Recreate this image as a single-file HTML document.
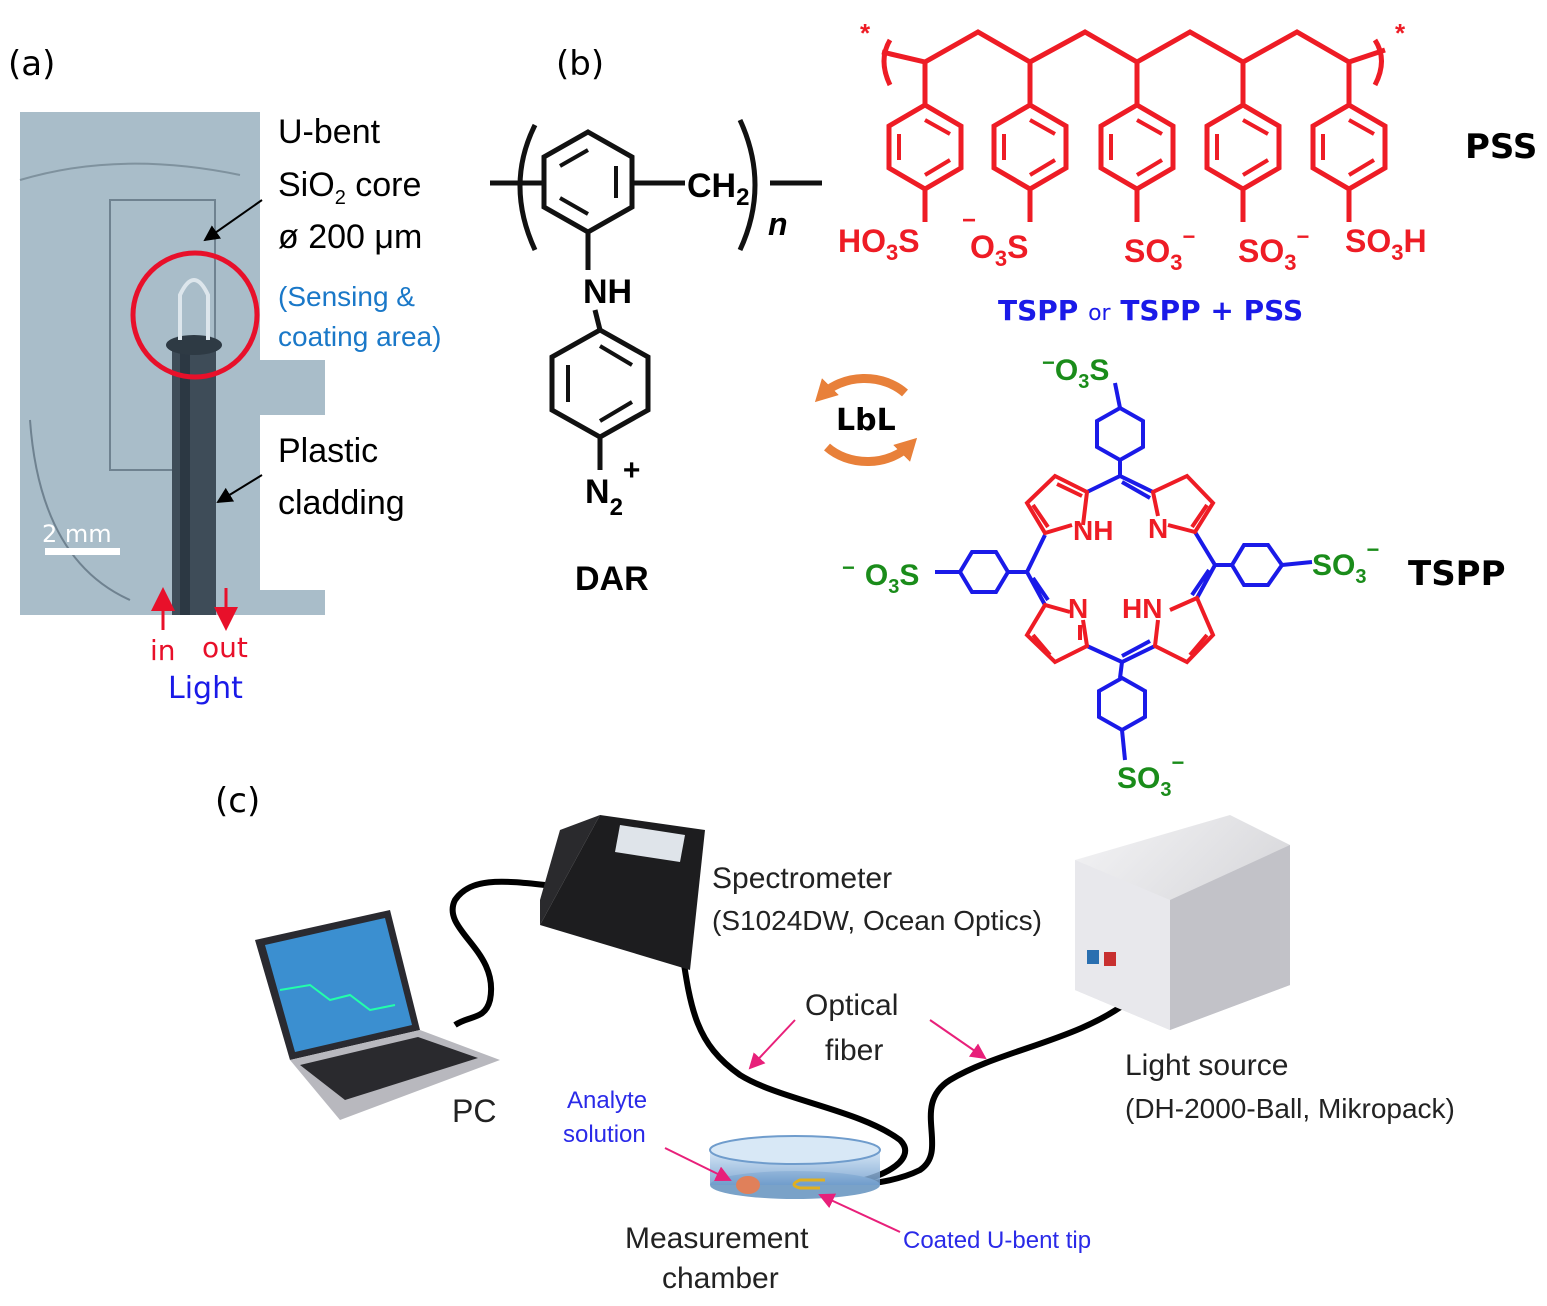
<!DOCTYPE html>
<html><head><meta charset="utf-8"><style>
body{margin:0;background:#fff}
svg{display:block}
text{font-family:"Liberation Sans",sans-serif}
.c{font-family:"DejaVu Sans","Liberation Sans",sans-serif}
</style></head><body>
<svg width="1547" height="1306" viewBox="0 0 1547 1306" xmlns="http://www.w3.org/2000/svg">
<defs>
<marker id="ab" markerWidth="8" markerHeight="8" refX="7" refY="4" orient="auto"><path d="M0,0L8,4L0,8z" fill="#000"/></marker>
<marker id="ar" markerWidth="8" markerHeight="8" refX="7" refY="4" orient="auto"><path d="M0,0L8,4L0,8z" fill="#e8102a"/></marker>
<marker id="am" markerWidth="8" markerHeight="8" refX="7" refY="4" orient="auto"><path d="M0,0L8,4L0,8z" fill="#e8207a"/></marker>
<marker id="ao" markerUnits="userSpaceOnUse" markerWidth="22" markerHeight="24" refX="12" refY="12" orient="auto"><path d="M0,0L22,12L0,24z" fill="#e8803a"/></marker>
<linearGradient id="ls" x1="0" y1="0" x2="1" y2="1"><stop offset="0" stop-color="#f4f4f6"/><stop offset="1" stop-color="#c8c8cc"/></linearGradient>
<linearGradient id="dish" x1="0" y1="0" x2="0" y2="1"><stop offset="0" stop-color="#cfe3f5"/><stop offset="1" stop-color="#6f9ccc"/></linearGradient>
</defs>

<!-- (a) -->
<text x="8" y="75" font-size="34" class="c">(a)</text>
<path d="M20,112H260V360H325V415H260V590H325V615H20Z" fill="#a9bdc9"/>
<path d="M20,180 Q120,150 240,175" stroke="#7f929e" stroke-width="2" fill="none"/>
<path d="M30,420 Q40,560 130,600" stroke="#6f8290" stroke-width="2" fill="none"/>
<path d="M110,200H215V470H110Z" stroke="#6f8290" stroke-width="2" fill="none"/>
<rect x="172" y="340" width="44" height="275" fill="#3e4c58"/>
<rect x="180" y="340" width="10" height="275" fill="#2c3843"/>
<ellipse cx="194" cy="345" rx="28" ry="10" fill="#2e3a44"/>
<path d="M180,340V295Q194,265 208,295V340" stroke="#dde6ec" stroke-width="4" fill="none"/>
<circle cx="195" cy="315" r="62" stroke="#e8102a" stroke-width="5" fill="none"/>
<rect x="45" y="548" width="75" height="7" fill="#fff"/>
<text x="42" y="542" font-size="24" fill="#fff" class="c">2 mm</text>
<line x1="262" y1="200" x2="205" y2="240" stroke="#000" stroke-width="2" marker-end="url(#ab)"/>
<line x1="262" y1="475" x2="218" y2="502" stroke="#000" stroke-width="2" marker-end="url(#ab)"/>
<g font-size="34" class="c">
<text x="278" y="143">U-bent</text>
<text x="278" y="196">SiO<tspan font-size="20" dy="8">2</tspan><tspan dy="-8"> core</tspan></text>
<text x="278" y="248">ø 200 μm</text>
<text x="278" y="462">Plastic</text>
<text x="278" y="514">cladding</text>
</g>
<g font-size="28" fill="#1a78c8" class="c"><text x="278" y="306">(Sensing &amp;</text><text x="278" y="346">coating area)</text></g>
<line x1="163" y1="630" x2="163" y2="590" stroke="#e8102a" stroke-width="3" marker-end="url(#ar)"/>
<line x1="226" y1="588" x2="226" y2="628" stroke="#e8102a" stroke-width="3" marker-end="url(#ar)"/>
<text x="150" y="660" font-size="28" fill="#e8102a" class="c">in</text>
<text x="202" y="657" font-size="28" fill="#e8102a" class="c">out</text>
<text x="168" y="698" font-size="30" fill="#1a1ae8" class="c">Light</text>

<!-- (b) -->
<text x="556" y="75" font-size="34" class="c">(b)</text>
<g stroke="#111" stroke-width="5" fill="none">
<polygon points="588,132 632,157 632,207 588,232 544,207 544,157"/>
<path d="M560,166L588,150M616,166V198M560,198L588,214" stroke-width="4"/>
<line x1="490" y1="183" x2="544" y2="183"/>
<line x1="632" y1="183" x2="685" y2="183"/>
<line x1="770" y1="183" x2="822" y2="183"/>
<path d="M535,125Q505,185 535,250"/>
<path d="M740,120Q770,185 740,250"/>
<line x1="588" y1="232" x2="588" y2="270"/>
<line x1="595" y1="310" x2="600" y2="330"/>
<polygon points="600,330 648,357 648,410 600,437 552,410 552,357"/>
<path d="M568,365V402M600,346L632,365M600,421L632,402" stroke-width="4"/>
<line x1="600" y1="437" x2="600" y2="470"/>
</g>
<g font-size="34" font-weight="bold" class="c">
<text x="687" y="197">CH<tspan font-size="24" dy="8">2</tspan></text>
<text x="768" y="235" font-style="italic" font-size="32">n</text>
<text x="583" y="303">NH</text>
<text x="585" y="503">N<tspan font-size="24" dy="12">2</tspan><tspan font-size="30" dy="-35">+</tspan></text>
<text x="575" y="590" font-weight="bold">DAR</text>
</g>

<!-- PSS -->
<g stroke="#ee1c25" stroke-width="5" fill="none">
<polyline points="882,52 925,62 978,32 1030,62 1085,32 1137,62 1190,32 1243,62 1297,32 1349,62 1385,50"/>
<path d="M890,40Q878,60 890,85M1375,40Q1388,60 1375,85"/>
<g id="r1"><line x1="925" y1="62" x2="925" y2="105"/><polygon points="925,105 961,126 961,168 925,189 889,168 889,126"/><path d="M899,134V160M925,120L950,134M925,175L950,160" stroke-width="4"/><line x1="925" y1="189" x2="925" y2="222"/></g>
<use href="#r1" transform="translate(105,0)"/>
<use href="#r1" transform="translate(212,0)"/>
<use href="#r1" transform="translate(318,0)"/>
<use href="#r1" transform="translate(424,0)"/>
</g>
<g fill="#ee1c25" font-size="32" font-weight="bold" class="c">
<text x="860" y="42" font-size="26">*</text><text x="1395" y="42" font-size="26">*</text>
<text x="838" y="252">HO<tspan font-size="22" dy="8">3</tspan><tspan dy="-8">S</tspan></text>
<text x="962" y="228" font-size="24">−</text>
<text x="970" y="258">O<tspan font-size="22" dy="8">3</tspan><tspan dy="-8">S</tspan></text>
<text x="1124" y="262">SO<tspan font-size="22" dy="8">3</tspan><tspan font-size="22" dy="-26">−</tspan></text>
<text x="1238" y="262">SO<tspan font-size="22" dy="8">3</tspan><tspan font-size="22" dy="-26">−</tspan></text>
<text x="1345" y="252">SO<tspan font-size="22" dy="8">3</tspan><tspan dy="-8">H</tspan></text>
</g>
<text x="1465" y="158" font-size="34" font-weight="bold" class="c">PSS</text>
<text x="998" y="320" font-size="28" font-weight="bold" fill="#1a1ae8" class="c">TSPP <tspan font-size="22" font-weight="normal">or</tspan> TSPP + PSS</text>

<!-- LbL -->
<g stroke="#e8803a" stroke-width="9" fill="none">
<path d="M905,393A55,45 0 0 0 822,395" marker-end="url(#ao)"/>
<path d="M827,447A55,45 0 0 0 910,445" marker-end="url(#ao)"/>
</g>
<text x="836" y="430" font-size="30" font-weight="bold" class="c">LbL</text>

<!-- TSPP -->
<g stroke="#1a1ae8" stroke-width="4" fill="none">
<line x1="1115" y1="383" x2="1120" y2="408"/>
<polygon points="1120,408 1143,421 1143,447 1120,460 1097,447 1097,421"/>
<line x1="1120" y1="460" x2="1120" y2="476"/>
<path d="M1087,492L1120,476L1153,492M1122,482L1150,498"/>
<line x1="1120" y1="678" x2="1122" y2="662"/>
<polygon points="1122,678 1145,691 1145,717 1122,730 1099,717 1099,691"/>
<line x1="1122" y1="730" x2="1125" y2="760"/>
<path d="M1087,646L1122,662L1155,646M1122,656L1150,641"/>
<path d="M1045,535L1027,572L1045,605M1033,578L1048,600"/>
<line x1="1027" y1="572" x2="1008" y2="572"/>
<polygon points="1008,572 996,592 972,592 960,572 972,552 996,552"/>
<line x1="960" y1="572" x2="935" y2="572"/>
<path d="M1195,532L1215,565L1197,598M1209,570L1192,595"/>
<line x1="1215" y1="565" x2="1232" y2="565"/>
<polygon points="1232,565 1244,545 1268,545 1282,565 1268,585 1244,585"/>
<line x1="1282" y1="565" x2="1312" y2="562"/>
</g>
<g stroke="#ee1c25" stroke-width="4" fill="none">
<path d="M1072,525L1045,533L1027,503L1055,476L1087,492L1083,525"/>
<path d="M1033,505L1048,527M1057,484L1082,496"/>
<path d="M1168,525L1195,532L1213,503L1187,476L1153,492L1158,516"/>
<path d="M1207,505L1192,527"/>
<path d="M1070,612L1045,605L1027,635L1055,662L1087,646L1083,620"/>
<path d="M1033,635L1050,655M1080,640L1080,625"/>
<path d="M1170,610L1197,598L1213,635L1187,662L1155,646L1158,620"/>
<path d="M1207,635L1190,655"/>
</g>
<g fill="#ee1c25" font-size="28" font-weight="bold" class="c">
<text x="1073" y="540">NH</text><text x="1148" y="538">N</text>
<text x="1068" y="618">N</text><text x="1122" y="618">HN</text>
</g>
<g fill="#1a8c1a" font-size="30" font-weight="bold" class="c">
<text x="1042" y="380"><tspan font-size="22" dy="-10">−</tspan><tspan dy="10">O</tspan><tspan font-size="20" dy="8">3</tspan><tspan dy="-8">S</tspan></text>
<text x="842" y="585"><tspan font-size="22" dy="-10">−</tspan><tspan dx="10" dy="10">O</tspan><tspan font-size="20" dy="8">3</tspan><tspan dy="-8">S</tspan></text>
<text x="1312" y="575">SO<tspan font-size="20" dy="8">3</tspan><tspan font-size="22" dy="-26">−</tspan></text>
<text x="1117" y="788">SO<tspan font-size="20" dy="8">3</tspan><tspan font-size="22" dy="-26">−</tspan></text>
</g>
<text x="1408" y="585" font-size="34" font-weight="bold" class="c">TSPP</text>

<!-- (c) -->
<text x="215" y="812" font-size="34" class="c">(c)</text>
<g stroke="#000" stroke-width="6" fill="none">
<path d="M545,885C500,880 470,878 455,900C440,930 500,950 490,1000C485,1020 470,1015 455,1025"/>
<path d="M678,925C690,1000 690,1040 740,1075C780,1100 860,1110 900,1140C920,1160 880,1185 810,1188"/>
<path d="M1130,1000C1080,1040 1000,1050 950,1080C910,1105 950,1150 920,1170C890,1185 850,1185 820,1190"/>
</g>
<polygon points="600,815 705,830 690,970 540,925" fill="#1d1d1f"/>
<polygon points="540,925 600,815 560,830 540,900" fill="#2a2a2d"/>
<polygon points="620,825 685,835 680,862 615,852" fill="#dfe4ea"/>
<polygon points="255,940 390,910 420,1030 290,1060" fill="#2a2a30"/>
<polygon points="265,945 385,918 412,1025 295,1052" fill="#3b8fd0"/>
<polyline points="280,990 310,985 330,1000 350,995 370,1010 395,1005" stroke="#2fa" stroke-width="2" fill="none"/>
<polygon points="290,1060 420,1030 500,1060 340,1120" fill="#b8b8be"/>
<polygon points="300,1065 418,1037 478,1058 345,1100" fill="#2a2a2e"/>
<polygon points="1075,860 1230,815 1290,845 1290,985 1170,1030 1075,990" fill="url(#ls)"/>
<polygon points="1075,860 1170,900 1170,1030 1075,990" fill="#e8e8ec"/>
<polygon points="1170,900 1290,845 1290,985 1170,1030" fill="#c2c2c8"/>
<rect x="1087" y="950" width="12" height="14" fill="#2a6fb0"/><rect x="1104" y="952" width="12" height="14" fill="#c83030"/>
<ellipse cx="795" cy="1185" rx="85" ry="14" fill="#7aa2c8"/>
<rect x="710" y="1150" width="170" height="35" fill="url(#dish)" opacity="0.85"/>
<ellipse cx="795" cy="1150" rx="85" ry="14" fill="#d8e8f6" stroke="#6f9ccc" stroke-width="2"/>
<ellipse cx="748" cy="1185" rx="12" ry="9" fill="#e0805a"/>
<path d="M820,1188H800Q788,1185 800,1180H825" stroke="#e0b020" stroke-width="3" fill="none"/>
<g font-size="30" fill="#222">
<text x="712" y="888">Spectrometer</text>
<text x="712" y="930" font-size="28">(S1024DW, Ocean Optics)</text>
<text x="805" y="1015">Optical</text>
<text x="825" y="1060">fiber</text>
<text x="1125" y="1075">Light source</text>
<text x="1125" y="1118" font-size="28">(DH-2000-Ball, Mikropack)</text>
<text x="452" y="1122" font-size="32">PC</text>
<text x="625" y="1248">Measurement</text>
<text x="662" y="1288">chamber</text>
</g>
<g font-size="24" fill="#2a2ae8">
<text x="567" y="1108">Analyte</text><text x="563" y="1142">solution</text>
<text x="903" y="1248">Coated U-bent tip</text>
</g>
<g stroke="#e8207a" stroke-width="2" fill="none">
<line x1="795" y1="1020" x2="750" y2="1068" marker-end="url(#am)"/>
<line x1="930" y1="1020" x2="985" y2="1058" marker-end="url(#am)"/>
<line x1="665" y1="1148" x2="730" y2="1180" marker-end="url(#am)"/>
<line x1="900" y1="1232" x2="820" y2="1195" marker-end="url(#am)"/>
</g>
</svg>
</body></html>
